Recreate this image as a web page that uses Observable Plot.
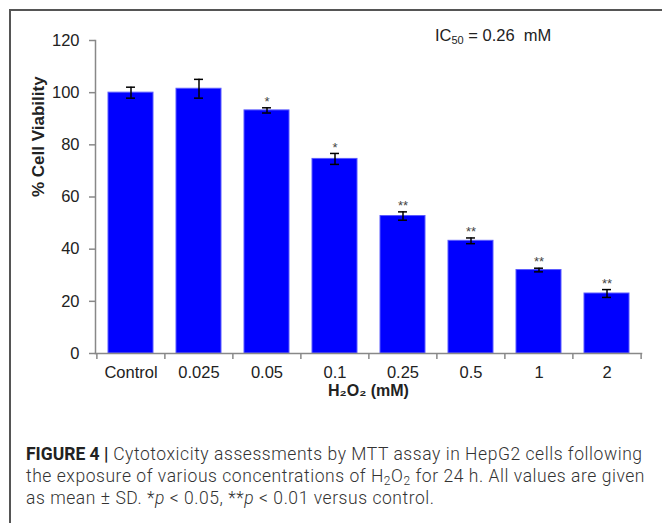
<!DOCTYPE html>
<html>
<head>
<meta charset="utf-8">
<script src="https://cdn.jsdelivr.net/npm/d3@7"></script>
<script src="https://cdn.jsdelivr.net/npm/@observablehq/plot@0.6"></script>
<style>
  html, body { margin: 0; padding: 0; background: #fff; }
  #wrap { position: relative; width: 662px; height: 523px; overflow: hidden; font-family: "Liberation Sans", Arial, sans-serif; }
  #frame { position: absolute; left: 9px; top: 9px; width: 700px; height: 600px; border-left: 2px solid #555; border-top: 2px solid #555; }
  #chart { position: absolute; left: 0; top: 0; }
  #ic50 { position: absolute; left: 435px; top: 26px; font-size: 16.5px; color: #222; white-space: pre; }
  #ic50 sub { font-size: 11px; vertical-align: -3px; line-height: 0; }
  #caption { position: absolute; left: 26px; top: 443px; width: 640px; white-space: nowrap; font-family: "Roboto", sans-serif; font-weight: 300; font-size: 17.5px; letter-spacing: 0.55px; line-height: 22px; color: #333; }
  #caption b { font-weight: 700; color: #222; letter-spacing: 0; }
  #caption sub { font-size: 12px; vertical-align: -3px; line-height: 0; }
</style>
</head>
<body>
<div id="wrap">
  <div id="frame"></div>
  <div id="chart"></div>
  <div id="ic50">IC<sub>50</sub> = 0.26  mM</div>
  <div id="caption"><b>FIGURE 4 |</b> Cytotoxicity assessments by MTT assay in HepG2 cells following<br>the exposure of various concentrations of H<sub>2</sub>O<sub>2</sub> for 24 h. All values are given<br>as mean ± SD. *<i>p</i> &lt; 0.05, **<i>p</i> &lt; 0.01 versus control.</div>
</div>
<script>
const categories = ["Control", "0.025", "0.05", "0.1", "0.25", "0.5", "1", "2"];
const viability = [100, 101.5, 93.2, 74.6, 52.7, 43.2, 32.0, 23.0];
const sd = [2.1, 3.6, 1.0, 2.1, 1.6, 1.1, 0.7, 1.5];
const stars = ["", "", "*", "*", "**", "**", "**", "**"];
const yTicks = [0, 20, 40, 60, 80, 100, 120];

const data = categories.map((c, i) => ({cat: c, v: viability[i], sd: sd[i], star: stars[i]}));

const W = 662, H = 410, ML = 95, MR = 21, MT = 40, MB = 57;
const padInner = 0.34;
const step = (W - ML - MR) / categories.length;
const bw = step * (1 - padInner);
const capInset = (bw - 9) / 2;
const last = [categories[categories.length - 1]];

const chart = Plot.plot({
  width: W, height: H,
  marginLeft: ML, marginRight: MR, marginTop: MT, marginBottom: MB,
  style: {fontFamily: "'Liberation Sans', Arial, sans-serif", fontSize: "16.5px", color: "#222", background: "transparent"},
  x: {type: "band", domain: categories, paddingInner: padInner, paddingOuter: padInner / 2, align: 0.5, label: null},
  y: {domain: [0, 120], label: null},
  marks: [
    Plot.barY(data, {x: "cat", y: "v", fill: "#0000ff", stroke: "#5a5aff", strokeWidth: 1}),
    Plot.ruleX(data, {x: "cat", y1: d => d.v - d.sd, y2: d => d.v + d.sd, stroke: "#000", strokeWidth: 1.5}),
    Plot.tickY(data, {x: "cat", y: d => d.v + d.sd, stroke: "#000", strokeWidth: 1.5, insetLeft: capInset, insetRight: capInset}),
    Plot.tickY(data, {x: "cat", y: d => d.v - d.sd, stroke: "#000", strokeWidth: 1.5, insetLeft: capInset, insetRight: capInset}),
    Plot.text(data, {x: "cat", y: d => d.v + d.sd, text: "star", dy: -6, fill: "#444", fontSize: 13}),
    Plot.frame({anchor: "left", stroke: "#888", strokeWidth: 1.5}),
    Plot.frame({anchor: "bottom", stroke: "#888", strokeWidth: 1.5}),
    Plot.axisY({ticks: yTicks, tickSize: 6, tickPadding: 10, stroke: "#888", strokeWidth: 1.5, fontSize: 16.5, label: null}),
    Plot.axisX({tickSize: 0, tickPadding: 13, fontSize: 16.5, label: null}),
    Plot.ruleX(data, {x: "cat", dx: -step / 2, y1: 0, y2: 0, insetBottom: -6, stroke: "#888", strokeWidth: 1.5}),
    Plot.ruleX(last, {x: d => d, dx: step / 2, y1: 0, y2: 0, insetBottom: -6, stroke: "#888", strokeWidth: 1.5}),
    Plot.text(["H₂O₂ (mM)"], {frameAnchor: "bottom", dy: 42, text: d => d, fontWeight: "bold", fontSize: 16, fill: "#222"}),
    Plot.text(["% Cell Viability"], {frameAnchor: "left", dx: -57, rotate: -90, text: d => d, fontWeight: "bold", fontSize: 17, fill: "#222"})
  ]
});
document.getElementById("chart").appendChild(chart);
</script>
</body>
</html>
